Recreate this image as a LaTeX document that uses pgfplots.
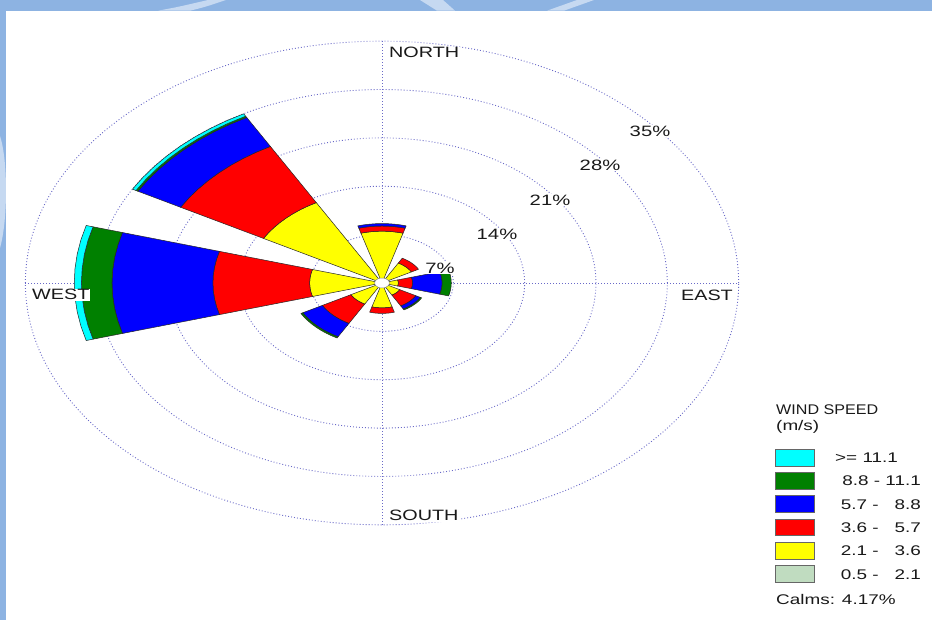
\documentclass[border=0pt]{standalone}
\usepackage{graphicx}
\usepackage{pgfplots}
\pgfplotsset{compat=1.18}
\usepackage{pgfplotstable}
\usepackage{fontspec}
\setmainfont{Liberation Sans}

\definecolor{wr1}{RGB}{192,220,192}
\definecolor{wr2}{RGB}{255,255,0}
\definecolor{wr3}{RGB}{255,0,0}
\definecolor{wr4}{RGB}{0,0,255}
\definecolor{wr5}{RGB}{0,128,0}
\definecolor{wr6}{RGB}{0,255,255}
\definecolor{slideblue}{RGB}{141,179,226}
\definecolor{slidelight}{RGB}{198,217,241}
\definecolor{ringc}{RGB}{105,105,200}

% frequency (%) per speed class; dir in degrees, 90 = north, 0 = east
% c1: 0.5-2.1  c2: 2.1-3.6  c3: 3.6-5.7  c4: 5.7-8.8  c5: 8.8-11.1  c6: >=11.1
\pgfplotstableread{
dir   c1   c2    c3    c4    c5    c6
90    0.3  7.2   0.75  0.35  0.0   0.0
45    0.3  3.0   0.8   0.0   0.0   0.0
0     0.3  1.3   1.4   2.9   0.9   0.0
-45   0.3  1.7   1.8   0.5   0.15  0.0
-90   0.3  3.3   0.8   0.0   0.0   0.0
-135  0.3  3.2   3.2   2.2   0.2   0.0
180   0.3  6.8   9.5   9.9   3.0   0.7
135   0.3  13.0  9.3   4.8   0.2   0.4
}\windtable

% one petal segment: #1 direction, #2 inner radius, #3 outer radius, #4 colour
\newcommand\windwedge[4]{%
  \gdef\wpts{}%
  \foreach \j in {-16,-12,...,16}{\pgfmathsetmacro\wa{#1+\j}\xdef\wpts{\wpts (\wa,#3)}}%
  \foreach \j in {16,12,...,-16}{\pgfmathsetmacro\wa{#1+\j}\xdef\wpts{\wpts (\wa,#2)}}%
  \pgfmathsetmacro\wa{#1-16}\xdef\wpts{\wpts (\wa,#3)}%
  \edef\wtmp{\noexpand\addplot[mark=none, draw=black!85, line width=0.5pt,
    fill=#4, data cs=polar] coordinates {\wpts};}%
  \wtmp
}
\newcommand\windclass[1]{%
  \pgfplotstablegetelem{\wrow}{c#1}\of\windtable
  \edef\wval{\pgfplotsretval}%
  \pgfmathsetmacro\wrout{\wrin+\wval}%
  \ifdim\wval pt>0pt\relax\windwedge{\wdir}{\wrin}{\wrout}{wr#1}\fi
  \let\wrin\wrout
}
\newcommand\wide[1]{\scalebox{1.35}[1]{#1}}

\begin{document}
\begin{tikzpicture}[
    ringdot/.style={draw=ringc, line width=0.9pt, dash pattern=on 0.9pt off 2.1pt},
    every node/.style={font=\fontsize{14}{16}\selectfont, text=black!90, inner sep=0pt},
  ]
% slide frame
\fill[slideblue] (0pt,0pt) rectangle (932pt,620pt);
\fill[slidelight] (158pt,609.3pt) .. controls (178pt,613pt) .. (208pt,620pt)
  -- (226pt,620pt) .. controls (205pt,613pt) .. (190pt,609.3pt) -- cycle;
\fill[slidelight] (420pt,620pt) -- (443pt,620pt) -- (455pt,609.3pt) -- (437pt,609.3pt) -- cycle;
\fill[slidelight] (577pt,620pt) -- (594pt,620pt) -- (564pt,609.3pt) -- (547pt,609.3pt) -- cycle;
\fill[slidelight] (0pt,372pt) .. controls (8pt,400pt) and (8pt,460pt) .. (0pt,484pt) -- cycle;
\fill[white] (6pt,0pt) rectangle (932pt,609.3pt);

% rings and cross
\begin{scope}[shift={(382pt,337pt)}]
  \foreach \r in {7,14,21,28,35}{
    \draw[ringdot] (0pt,0pt) ellipse [x radius={\r*10.19pt}, y radius={\r*6.91pt}];
  }
  \draw[ringdot] (0pt,241.85pt) -- (0pt,-241.85pt);
  \draw[ringdot] (-356.65pt,0pt) -- (356.65pt,0pt);
\end{scope}

\begin{axis}[
    x=10.19pt, y=6.91pt,
    xmin=-36, xmax=36, ymin=-36, ymax=36,
    hide axis, clip=false,
    anchor=origin, at={(382pt,337pt)},
  ]
  \pgfplotsforeachungrouped \wrow in {0,1,...,7}{%
    \pgfplotstablegetelem{\wrow}{dir}\of\windtable
    \edef\wdir{\pgfplotsretval}%
    \def\wrin{0}%
    \windclass{1}\windclass{2}\windclass{3}%
    \windclass{4}\windclass{5}\windclass{6}%
  }
  % calms circle
  \addplot[mark=none, fill=white, draw=black!50, line width=0.4pt, data cs=polar]
    coordinates {(0,0.72) (20,0.72) (40,0.72) (60,0.72) (80,0.72) (100,0.72)
      (120,0.72) (140,0.72) (160,0.72) (180,0.72) (200,0.72) (220,0.72)
      (240,0.72) (260,0.72) (280,0.72) (300,0.72) (320,0.72) (340,0.72) (360,0.72)};
\end{axis}

% direction and ring labels
\begin{scope}[every node/.style={font=\fontsize{15}{17}\selectfont, text=black!90,
    fill=white, inner sep=1pt}]
  \node[anchor=base west] at (388pt,562pt) {\scalebox{1.32}[1]{NORTH}};
  \node[anchor=base west] at (31pt,320pt) {\scalebox{1.32}[1]{WEST}};
  \node[anchor=base east] at (734pt,319pt) {\scalebox{1.32}[1]{EAST}};
  \node[anchor=base west] at (388pt,99pt) {\scalebox{1.32}[1]{SOUTH}};
  \node at (440pt,352pt) {\wide{7\%}};
  \node at (497pt,386pt) {\wide{14\%}};
  \node at (550pt,420pt) {\wide{21\%}};
  \node at (600pt,455pt) {\wide{28\%}};
  \node at (650pt,489pt) {\wide{35\%}};
\end{scope}

% legend
\node[anchor=base west] at (776pt,205pt) {\scalebox{1.15}[1]{WIND SPEED}};
\node[anchor=base west] at (776pt,189pt) {\wide{(m/s)}};
\foreach \c/\yt in {wr6/170.7, wr5/147.4, wr4/124.1, wr3/100.8, wr2/77.5, wr1/54.2}{
  \draw[draw=black!60, line width=0.8pt, fill=\c] (775pt,\yt pt) rectangle (814pt,\yt pt-16.7pt);
}
\node[anchor=base west] at (835pt,157.3pt) {\wide{>= 11.1}};
\node[anchor=base east] at (921pt,134.0pt) {\wide{8.8 - 11.1}};
\node[anchor=base east] at (921pt,110.7pt) {\wide{5.7 - \phantom{1}8.8}};
\node[anchor=base east] at (921pt,87.4pt) {\wide{3.6 - \phantom{1}5.7}};
\node[anchor=base east] at (921pt,64.1pt) {\wide{2.1 - \phantom{1}3.6}};
\node[anchor=base east] at (921pt,40.8pt) {\wide{0.5 - \phantom{1}2.1}};
\node[anchor=base west] at (776pt,15pt) {\wide{Calms: 4.17\%}};
\end{tikzpicture}
\end{document}
